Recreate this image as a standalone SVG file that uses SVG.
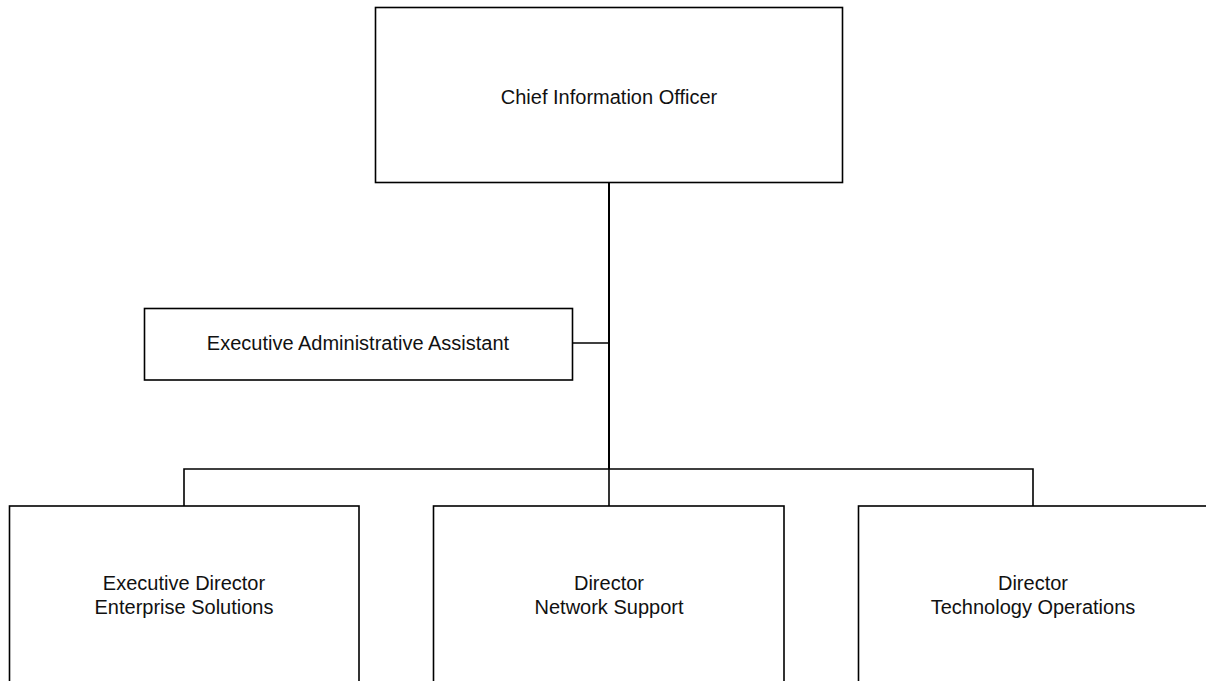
<svg xmlns="http://www.w3.org/2000/svg" width="1206" height="681" viewBox="0 0 1206 681">
<style>
.box{fill:#fff;stroke:#000;stroke-width:1.6}
.lbl{font-family:"Liberation Sans",Arial,sans-serif;font-size:20px;fill:#111;text-anchor:middle}
.con{fill:none;stroke:#000;stroke-width:1.6}
</style>
<rect width="1206" height="681" fill="#fff"/>
<g id="connectors">
<line class="con" x1="609" y1="183" x2="609" y2="469" style="stroke-width:2"/>
<line class="con" x1="573" y1="343" x2="609" y2="343"/>
<polyline class="con" points="184,506 184,469 1033,469 1033,506"/>
<line class="con" x1="609" y1="469" x2="609" y2="506"/>
</g>
<g id="cio">
<rect class="box" x="375.5" y="7.5" width="467" height="175"/>
<text class="lbl" x="609" y="104">Chief Information Officer</text>
</g>
<g id="eaa">
<rect class="box" x="144.5" y="308.5" width="428" height="71.5"/>
<text class="lbl" x="358" y="350">Executive Administrative Assistant</text>
</g>
<g id="ed-es">
<rect class="box" x="9.5" y="506" width="349.5" height="185"/>
<text class="lbl" x="184" y="590">Executive Director</text>
<text class="lbl" x="184" y="614">Enterprise Solutions</text>
</g>
<g id="dir-ns">
<rect class="box" x="433.5" y="506" width="350.5" height="185"/>
<text class="lbl" x="609" y="590">Director</text>
<text class="lbl" x="609" y="614">Network Support</text>
</g>
<g id="dir-to">
<rect class="box" x="858.5" y="506" width="360" height="185"/>
<text class="lbl" x="1033" y="590">Director</text>
<text class="lbl" x="1033" y="614">Technology Operations</text>
</g>
</svg>
